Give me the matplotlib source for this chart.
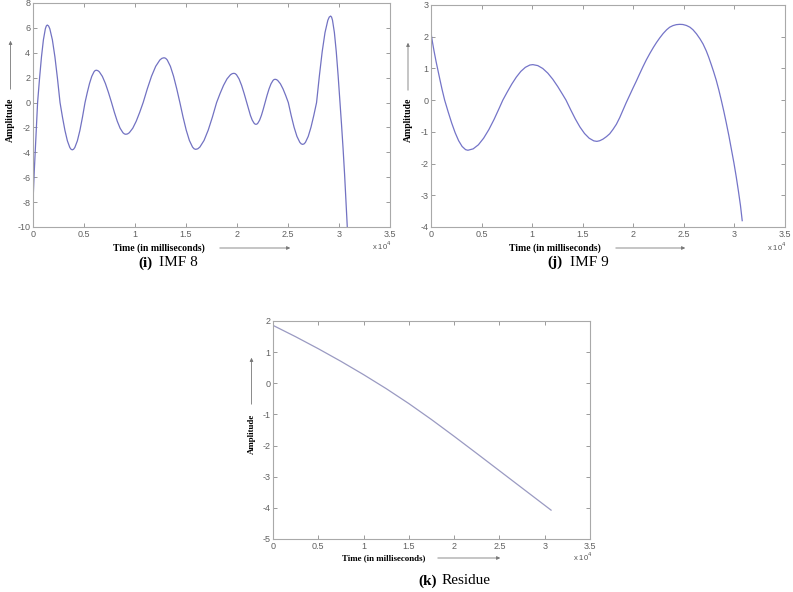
import matplotlib
matplotlib.use("Agg")
from matplotlib import pyplot as plt
from matplotlib.ticker import FormatStrFormatter

# time axis in units of 1e4 ms (the plot shows "x 10^4")
imf8_t = [0.003, 0.012, 0.024, 0.035, 0.045,
          0.064, 0.083, 0.102, 0.121, 0.1305, 0.14,
          0.1525, 0.165, 0.19, 0.215, 0.24, 0.265,
          0.289, 0.313, 0.337, 0.361, 0.373, 0.385,
          0.3975, 0.41, 0.435, 0.46, 0.485, 0.51,
          0.532, 0.554, 0.576, 0.598, 0.609, 0.62,
          0.635, 0.65, 0.68, 0.71, 0.74, 0.77,
          0.798, 0.826, 0.854, 0.882, 0.896, 0.91,
          0.927, 0.944, 0.978, 1.012, 1.046, 1.08,
          1.121, 1.162, 1.203, 1.244, 1.2645, 1.285,
          1.3005, 1.316, 1.347, 1.378, 1.409, 1.44,
          1.471, 1.502, 1.533, 1.564, 1.5795, 1.595,
          1.6155, 1.636, 1.677, 1.718, 1.759, 1.80,
          1.834, 1.868, 1.902, 1.936, 1.953, 1.97,
          1.9825, 1.995, 2.02, 2.045, 2.07, 2.095,
          2.1132, 2.1314, 2.1496, 2.1678, 2.1769, 2.186,
          2.1949, 2.2038, 2.2216, 2.2394, 2.2572, 2.275,
          2.2946, 2.3142, 2.3338, 2.3534, 2.3632, 2.373,
          2.386, 2.399, 2.425, 2.451, 2.477, 2.503,
          2.5312, 2.5594, 2.5876, 2.6158, 2.6299, 2.644,
          2.6576, 2.6712, 2.6984, 2.7256, 2.7528, 2.78,
          2.8076, 2.8352, 2.8628, 2.8904, 2.9042, 2.918,
          2.9272, 2.9364, 2.9548, 2.9732, 2.9916, 3.01,
          3.025, 3.04, 3.055, 3.07, 3.08, 3.09]
imf8_amp = [-7.4, -5.6, -3.6, -1.7, 0.0,
            1.925, 3.663, 5.040, 5.925, 6.155, 6.23,
            6.155, 5.925, 5.040, 3.663, 1.925, 0.0,
            -1.174, -2.234, -3.074, -3.614, -3.754, -3.80,
            -3.754, -3.614, -3.074, -2.234, -1.174, 0.0,
            0.803, 1.529, 2.103, 2.473, 2.569, 2.60,
            2.569, 2.473, 2.103, 1.529, 0.803, 0.0,
            -0.788, -1.499, -2.063, -2.425, -2.519, -2.55,
            -2.519, -2.425, -2.063, -1.499, -0.788, 0.0,
            1.112, 2.117, 2.912, 3.424, 3.557, 3.60,
            3.557, 3.424, 2.912, 2.117, 1.112, 0.0,
            -1.162, -2.211, -3.042, -3.576, -3.715, -3.76,
            -3.715, -3.576, -3.042, -2.211, -1.162, 0.0,
            0.726, 1.382, 1.901, 2.235, 2.322, 2.35,
            2.322, 2.235, 1.901, 1.382, 0.726, 0.0,
            -0.541, -1.029, -1.416, -1.664, -1.729, -1.75,
            -1.729, -1.664, -1.416, -1.029, -0.541, 0.0,
            0.578, 1.100, 1.513, 1.778, 1.848, 1.87,
            1.848, 1.778, 1.513, 1.100, 0.578, 0.0,
            -1.038, -1.976, -2.718, -3.195, -3.320, -3.36,
            -3.320, -3.195, -2.718, -1.976, -1.038, 0.0,
            2.148, 4.087, 5.623, 6.609, 6.867, 6.95,
            6.867, 6.609, 5.623, 4.087, 2.148, 0.0,
            -1.8, -3.7, -5.8, -8.1, -9.8, -11.6]

imf9_t = [0.0, 0.015, 0.03, 0.05, 0.07, 0.09, 0.11, 0.135,
          0.1695, 0.204, 0.2385, 0.273, 0.3075, 0.342, 0.365,
          0.417, 0.4685, 0.520, 0.572, 0.624, 0.6755, 0.71,
          0.7546, 0.799, 0.8437, 0.888, 0.933, 0.977, 1.007,
          1.056, 1.105, 1.155, 1.204, 1.253, 1.302, 1.335,
          1.381, 1.4265, 1.472, 1.518, 1.564, 1.6095, 1.64,
          1.668, 1.70, 1.735, 1.767, 1.80, 1.833, 1.866, 1.90, 1.93,
          1.965, 1.997, 2.03, 2.06, 2.095, 2.129, 2.165, 2.20, 2.23,
          2.261, 2.295, 2.33, 2.36, 2.392, 2.425, 2.458,
          2.49, 2.525, 2.56, 2.59, 2.625, 2.66, 2.69, 2.722, 2.745,
          2.77, 2.795, 2.82, 2.845, 2.87, 2.895, 2.919, 2.945, 2.97,
          2.995, 3.018, 3.04, 3.06, 3.077]
imf9_amp = [2.12, 1.82, 1.55, 1.22, 0.92, 0.62, 0.33, 0.0,
            -0.368, -0.717, -1.025, -1.278, -1.460, -1.561, -1.58,
            -1.536, -1.408, -1.201, -0.929, -0.605, -0.246, 0.0,
            0.261, 0.508, 0.727, 0.906, 1.035, 1.107, 1.12,
            1.089, 0.998, 0.851, 0.659, 0.429, 0.175, 0.0,
            -0.303, -0.590, -0.844, -1.052, -1.201, -1.284, -1.30,
            -1.28, -1.23, -1.15, -1.06, -0.92, -0.76, -0.55, -0.30, -0.08,
            0.16, 0.38, 0.60, 0.81, 1.05, 1.27, 1.48, 1.67, 1.82,
            1.96, 2.10, 2.22, 2.30, 2.35, 2.38, 2.39,
            2.385, 2.355, 2.30, 2.22, 2.09, 1.93, 1.77, 1.55, 1.36,
            1.13, 0.89, 0.63, 0.33, 0.0, -0.35, -0.71, -1.12, -1.55,
            -1.98, -2.42, -2.88, -3.33, -3.80]

res_t = [0.0, 0.25, 0.5, 0.75, 1.0, 1.25, 1.5, 1.75, 2.0, 2.25, 2.5, 2.75, 3.07]
res_amp = [1.86, 1.495, 1.11, 0.705, 0.278, -0.172, -0.652, -1.165, -1.703, -2.253, -2.808, -3.363, -4.073]

W, H = 793, 592
SERIF = ['Liberation Serif', 'DejaVu Serif']
SANS = ['Liberation Sans', 'DejaVu Sans']

def fx(px):
    return px / W

def fy(py):
    return 1 - py / H

fig = plt.figure(figsize=(W / 100, H / 100), dpi=100)

def make_axes(left, top, right, bottom, ylim, yticks):
    ax = fig.add_axes([fx(left), fy(bottom), (right - left) / W, (bottom - top) / H])
    ax.set_xlim(0, 3.5)
    ax.set_ylim(*ylim)
    ax.set_xticks([0, 0.5, 1, 1.5, 2, 2.5, 3, 3.5])
    ax.set_yticks(yticks)
    ax.xaxis.set_major_formatter(FormatStrFormatter('%g'))
    ax.yaxis.set_major_formatter(FormatStrFormatter('%g'))
    for s in ax.spines.values():
        s.set_color('#a9a9a9')
        s.set_linewidth(0.8)
    ax.tick_params(direction='in', top=True, right=True, length=3, width=0.6,
                   color='#8a8a8a', labelsize=6.5, labelcolor='#606060', pad=2)
    for lab in ax.get_xticklabels() + ax.get_yticklabels():
        lab.set_family(SANS)
    return ax

def labels(ax, amp_x, amp_y, arr_y0, arr_y1, time_x, time_y, arr_x0, arr_x1, exp_x, exp_y, size=7):
    fig.text(fx(amp_x), fy(amp_y), 'Amplitude', rotation=90, ha='center', va='center',
             family=SERIF, weight='bold', size=size)
    ax.annotate('', xy=(fx(amp_x), fy(arr_y1)), xytext=(fx(amp_x), fy(arr_y0)),
                xycoords='figure fraction', annotation_clip=False,
                arrowprops=dict(arrowstyle='-|>', color='#777777', lw=0.6, mutation_scale=5))
    fig.text(fx(time_x), fy(time_y), 'Time (in milliseconds)', ha='center', va='center',
             family=SERIF, weight='bold', size=size)
    ax.annotate('', xy=(fx(arr_x1), fy(time_y)), xytext=(fx(arr_x0), fy(time_y)),
                xycoords='figure fraction', annotation_clip=False,
                arrowprops=dict(arrowstyle='-|>', color='#777777', lw=0.6, mutation_scale=5))
    fig.text(fx(exp_x), fy(exp_y), r'x 10$^4$', ha='left', va='center',
             family=SANS, size=5.5, color='#555555')

def caption(x_bold, x_text, y, bold, text):
    fig.text(fx(x_bold), fy(y), bold, ha='left', va='center', family=SERIF, weight='bold', size=11)
    fig.text(fx(x_text), fy(y), text, ha='left', va='center', family=SERIF, size=11)

# (i) IMF 8
ax1 = make_axes(33, 3, 390, 227, (-10, 8), range(-10, 9, 2))
ax1.plot(imf8_t, imf8_amp, color='#7272c2', lw=0.9)
labels(ax1, 10.5, 120, 92, 38, 159, 248, 217, 293, 372, 246)
caption(138, 159, 263, '(i)', 'IMF 8')

# (j) IMF 9
ax2 = make_axes(431, 5, 785, 227, (-4, 3), range(-4, 4))
ax2.plot(imf9_t, imf9_amp, color='#7474c8', lw=0.9)
labels(ax2, 408, 120, 93, 40, 555, 248, 613, 688, 767, 247)
caption(547, 570, 262, '(j)', 'IMF 9')

# (k) Residue
ax3 = make_axes(273, 321, 590, 539, (-5, 2), range(-5, 3))
ax3.plot(res_t, res_amp, color='#9a9ac2', lw=0.9)
labels(ax3, 251.5, 434, 407, 355, 383.5, 558, 435, 503, 573, 557, size=6.4)
caption(418, 442, 581, '(k)', 'Residue')

fig.savefig('out.png', dpi=100)
